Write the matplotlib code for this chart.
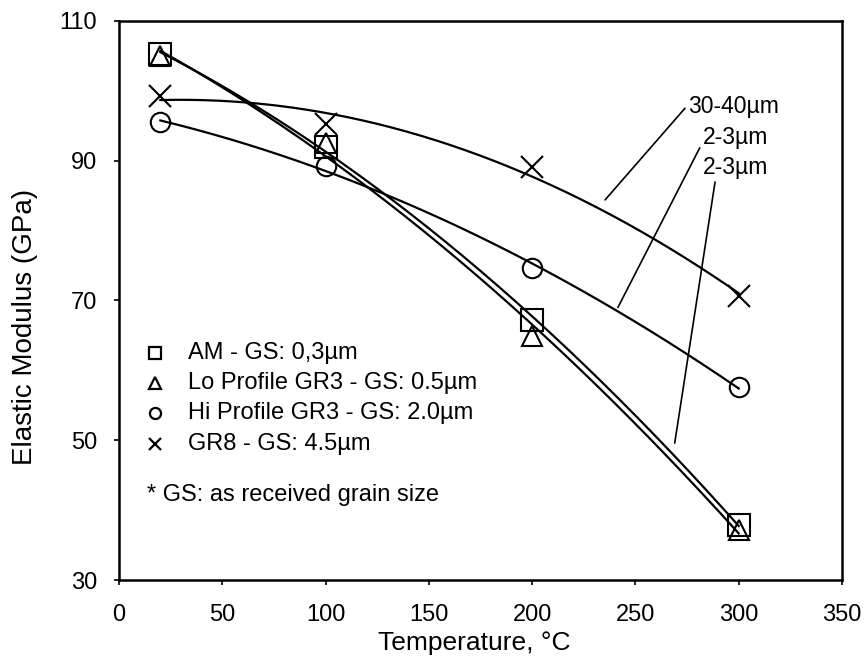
import numpy as np
import matplotlib.pyplot as plt

plt.rcParams["font.family"] = ["Liberation Sans", "DejaVu Sans"]

temps = [20, 100, 200, 300]
am = [105.3, 91.9, 67.2, 37.9]
lo_gr3 = [105.0, 92.5, 64.9, 37.2]
hi_gr3 = [95.5, 89.2, 74.7, 57.6]
gr8 = [99.3, 95.3, 89.1, 70.6]

labels = [
    "AM - GS: 0,3µm",
    "Lo Profile GR3 - GS: 0.5µm",
    "Hi Profile GR3 - GS: 2.0µm",
    "GR8 - GS: 4.5µm",
]
markers = ["s", "^", "o", "x"]
sizes = [16, 15, 14, 16]

fig = plt.figure(figsize=(8.67, 6.6), dpi=100)
ax = fig.add_axes([0.1373, 0.1212, 0.8339, 0.8470])

xs = np.linspace(20, 300, 200)
for vals, m, ms in zip([am, lo_gr3, hi_gr3, gr8], markers, sizes):
    coef = np.polyfit(temps, vals, 2)
    ax.plot(xs, np.polyval(coef, xs), color="black", lw=1.6)
    ax.plot(temps, vals, linestyle="none", marker=m, markersize=ms,
            markerfacecolor="none", markeredgecolor="black", markeredgewidth=1.5)

# callouts, leader lines end at the text's edge
def leader(rp):
    return dict(arrowstyle="-", color="black", lw=1.2, shrinkA=0, shrinkB=0, relpos=rp)

ax.annotate("30-40µm", xy=(235.3, 84.4), xytext=(275.3, 97.8),
            fontsize=16.5, va="center", ha="left", arrowprops=leader((0, 0.55)))
ax.annotate("2-3µm", xy=(241.5, 69.0), xytext=(282.5, 93.3),
            fontsize=16.5, va="center", ha="left", arrowprops=leader((0, 0.3)))
ax.annotate("2-3µm", xy=(269.0, 49.6), xytext=(282.5, 89.0),
            fontsize=16.5, va="center", ha="left", arrowprops=leader((0.2, 0.05)))

# key
key_y = [62.5, 58.2, 53.9, 49.4]
key_ms = [8, 8, 8, 9]
for lab, m, ms, ky in zip(labels, markers, key_ms, key_y):
    ax.plot([17.5], [ky], linestyle="none", marker=m, markersize=ms,
            markerfacecolor="none", markeredgecolor="black", markeredgewidth=1.6)
    ax.text(33.5, ky, lab, fontsize=17, va="center", ha="left")
ax.text(13.5, 42.2, "* GS: as received grain size", fontsize=17, va="center", ha="left")

ax.set_xlim(0, 350)
ax.set_ylim(30, 110)
ax.set_xticks(np.arange(0, 351, 50))
ax.set_yticks([30, 50, 70, 90, 110])
ax.tick_params(direction="out", length=3.6, width=1.2, labelsize=17)
ax.tick_params(axis="y", pad=12)
ax.tick_params(axis="x", pad=14)
for sp in ax.spines.values():
    sp.set_linewidth(1.8)
ax.set_xlabel("Temperature, °C", fontsize=19)
ax.set_ylabel("Elastic Modulus (GPa)", fontsize=20)
ax.xaxis.set_label_coords(0.491, -0.0905)
ax.yaxis.set_label_coords(-0.112, 0.453)

fig.savefig("out.png", dpi=100)
